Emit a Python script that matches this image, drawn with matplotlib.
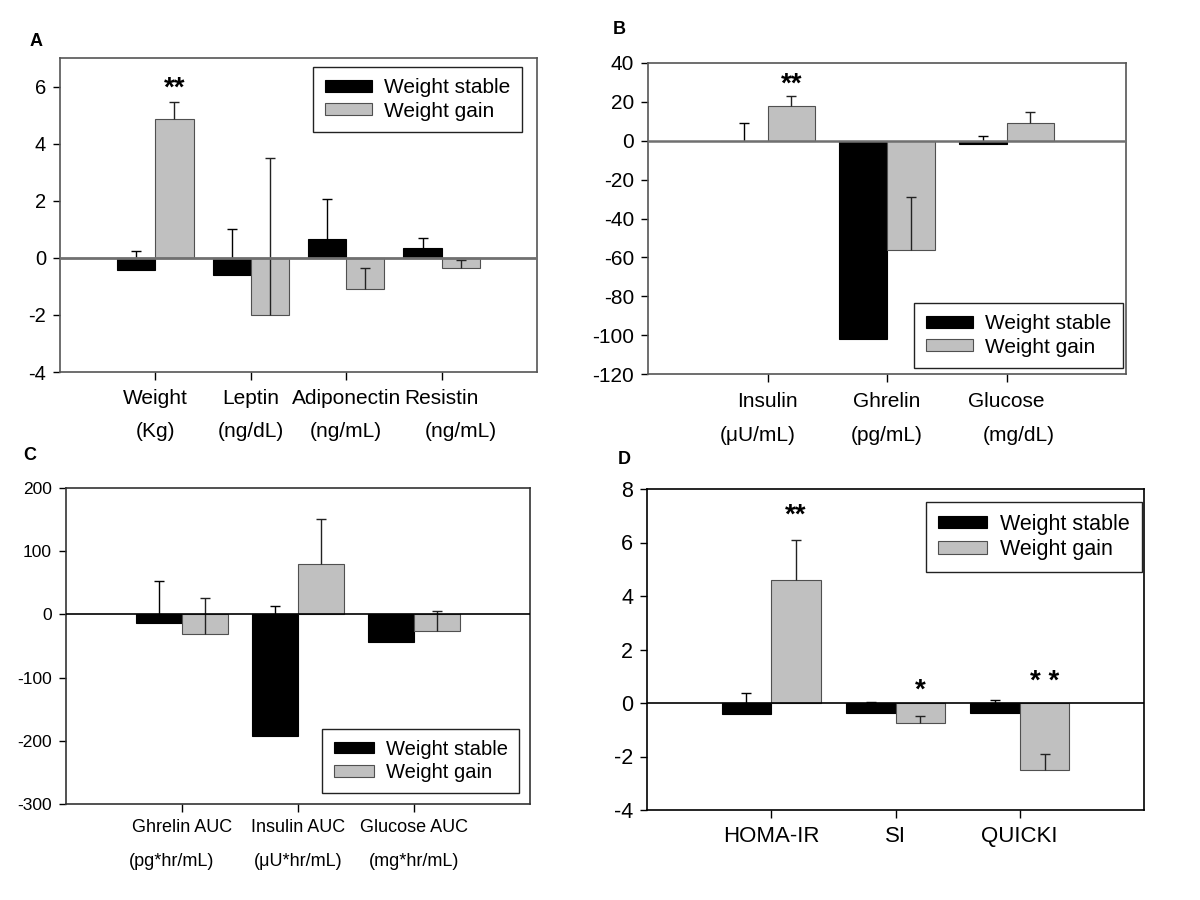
import numpy as np
import matplotlib
matplotlib.use("Agg")
import matplotlib.pyplot as plt

plt.rcParams['font.family'] = ['Liberation Sans', 'DejaVu Sans']
plt.rcParams['axes.unicode_minus'] = False

# ---- data ----
series = ["Weight stable", "Weight gain"]

a_names = ["Weight", "Leptin", "Adiponectin", "Resistin"]
a_units = ["(Kg)", "(ng/dL)", "(ng/mL)", "(ng/mL)"]
a_stable = [-0.42, -0.6, 0.66, 0.36]
a_stable_err = [0.67, 1.6, 1.4, 0.32]
a_gain = [4.85, -2.0, -1.1, -0.36]
a_gain_err = [0.6, 5.5, 0.75, 0.3]

b_names = ["Insulin", "Ghrelin", "Glucose"]
b_units = ["(\u03bcU/mL)", "(pg/mL)", "(mg/dL)"]
b_stable = [-0.3, -102.0, -1.5]
b_stable_err = [9.3, 0.0, 4.0]
b_gain = [18.0, -56.0, 9.0]
b_gain_err = [5.0, 27.0, 6.0]

c_names = ["Ghrelin AUC", "Insulin AUC", "Glucose AUC"]
c_units = ["(pg*hr/mL)", "(\u03bcU*hr/mL)", "(mg*hr/mL)"]
c_stable = [-14.0, -192.0, -44.0]
c_stable_err = [67.0, 206.0, 0.0]
c_gain = [-31.0, 79.0, -26.0]
c_gain_err = [57.0, 72.0, 32.0]

d_names = ["HOMA-IR", "SI", "QUICKI"]
d_stable = [-0.4, -0.38, -0.37]
d_stable_err = [0.76, 0.43, 0.5]
d_gain = [4.6, -0.75, -2.5]
d_gain_err = [1.5, 0.25, 0.6]

# significance marks: (category index, y, text)
a_sig = [(0, 5.67, "**")]
b_sig = [(0, 25.5, "**")]
d_sig = [(0, 6.75, "**"), (1, 0.2, "*"), (2, 0.52, "* *")]

W, H = 1200, 900
fig = plt.figure(figsize=(12, 9), dpi=100)


def px_axes(l, t, r, b):
    return fig.add_axes([l / W, 1 - b / H, (r - l) / W, (b - t) / H])


def errs(ax, x, vals, err, col):
    vals = np.asarray(vals)
    top = vals + np.asarray(err)
    ax.vlines(x, vals, top, color=col, lw=1, zorder=3)
    keep = np.asarray(err) > 0
    ax.plot(np.asarray(x)[keep], top[keep], ls="none", marker="_",
            ms=7.5, mew=1, color=col, zorder=3)


def panel(ax, names, stable, s_err, gain, g_err, ylim, yticks, fs, frame,
          zero_col, zero_lw, sig, sig_fs, leg_loc, leg_anchor, leg_fs, hl):
    x = np.arange(len(names))
    bw = 0.4
    ax.bar(x - bw / 2, stable, bw, color="black", edgecolor="black",
           linewidth=0.8, label=series[0], zorder=2)
    ax.bar(x + bw / 2, gain, bw, color="#c0c0c0", edgecolor="#505050",
           linewidth=0.8, label=series[1], zorder=2)
    errs(ax, x - bw / 2, stable, s_err, "black")
    errs(ax, x + bw / 2, gain, g_err, "#222222")
    ax.axhline(0, color=zero_col, lw=zero_lw, zorder=4)
    ax.set_xlim(-1, len(names))
    ax.set_ylim(*ylim)
    ax.set_yticks(yticks)
    ax.set_xticks(x)
    ax.set_xticklabels([])
    ax.tick_params(axis="y", labelsize=fs, length=5, direction="out",
                   width=1, pad=5)
    ax.tick_params(axis="x", length=6, direction="out", width=1)
    for s in ax.spines.values():
        s.set_color(frame)
        s.set_linewidth(1.2)
    for i, yv, t in sig:
        ax.text(i + bw / 2, yv, t, ha="center", va="baseline",
                fontsize=sig_fs, fontweight="bold")
    leg = ax.legend(loc=leg_loc, bbox_to_anchor=leg_anchor, borderaxespad=0,
                    fontsize=leg_fs, fancybox=False, framealpha=1,
                    edgecolor="#222222", handlelength=hl, handleheight=0.5,
                    handletextpad=0.6, borderpad=0.55, labelspacing=0.2)
    leg.get_frame().set_linewidth(1)
    return x


def xlabels(ax, x, names, units, fs, y1, y2, dx=None):
    tr = ax.get_xaxis_transform()
    for i, n in enumerate(names):
        ax.text(x[i], y1, n, transform=tr, ha="center", va="center", fontsize=fs)
    if units:
        for i, u in enumerate(units):
            off = 0 if dx is None else dx[i]
            ax.text(x[i] + off, y2, u, transform=tr, ha="center", va="center",
                    fontsize=fs)


# A
axA = px_axes(60, 58, 537, 372)
xA = panel(axA, a_names, a_stable, a_stable_err, a_gain, a_gain_err,
           (-4, 7), [-4, -2, 0, 2, 4, 6], 14.5, "#555555", "#707070", 2,
           a_sig, 20, "upper right", (1 - 15 / 477, 1 - 9 / 314), 15, 2.25)
xlabels(axA, xA, a_names, a_units, 15, -0.083, -0.191, [0, 0, 0, 0.2])

# B
axB = px_axes(648, 63, 1126, 374)
xB = panel(axB, b_names, b_stable, b_stable_err, b_gain, b_gain_err,
           (-120, 40), np.arange(-120, 41, 20), 15, "#555555", "#707070", 1.8,
           b_sig, 20, "lower right", (1 - 3 / 478, 6 / 311), 15, 2.25)
xlabels(axB, xB, b_names, b_units, 15, -0.087, -0.199, [-0.08, 0, 0.1])

# C
axC = px_axes(66, 488, 530, 804)
xC = panel(axC, c_names, c_stable, c_stable_err, c_gain, c_gain_err,
           (-300, 200), np.arange(-300, 201, 100), 12.5, "#333333", "black", 1.2,
           [], 20, "lower right", (1 - 11 / 464, 11 / 316), 14.5, 2.0)
xlabels(axC, xC, c_names, c_units, 13, -0.075, -0.183, [-0.09, 0, 0])

# D
axD = px_axes(647, 489, 1144, 810)
xD = panel(axD, d_names, d_stable, d_stable_err, d_gain, d_gain_err,
           (-4, 8), [-4, -2, 0, 2, 4, 6, 8], 15.5, "black", "black", 1.2,
           d_sig, 20, "upper right", (1 - 2 / 497, 1 - 13 / 321), 15.5, 2.3)
xlabels(axD, xD, d_names, None, 16, -0.083, None)

# panel letters
for lbl, (px, py) in zip("ABCD", [(30, 42), (613, 30), (23, 455), (618, 459)]):
    fig.text(px / W, 1 - py / H, lbl, fontsize=13, fontweight="bold",
             ha="left", va="center")

fig.savefig("out.png", dpi=100)
plt.close(fig)
